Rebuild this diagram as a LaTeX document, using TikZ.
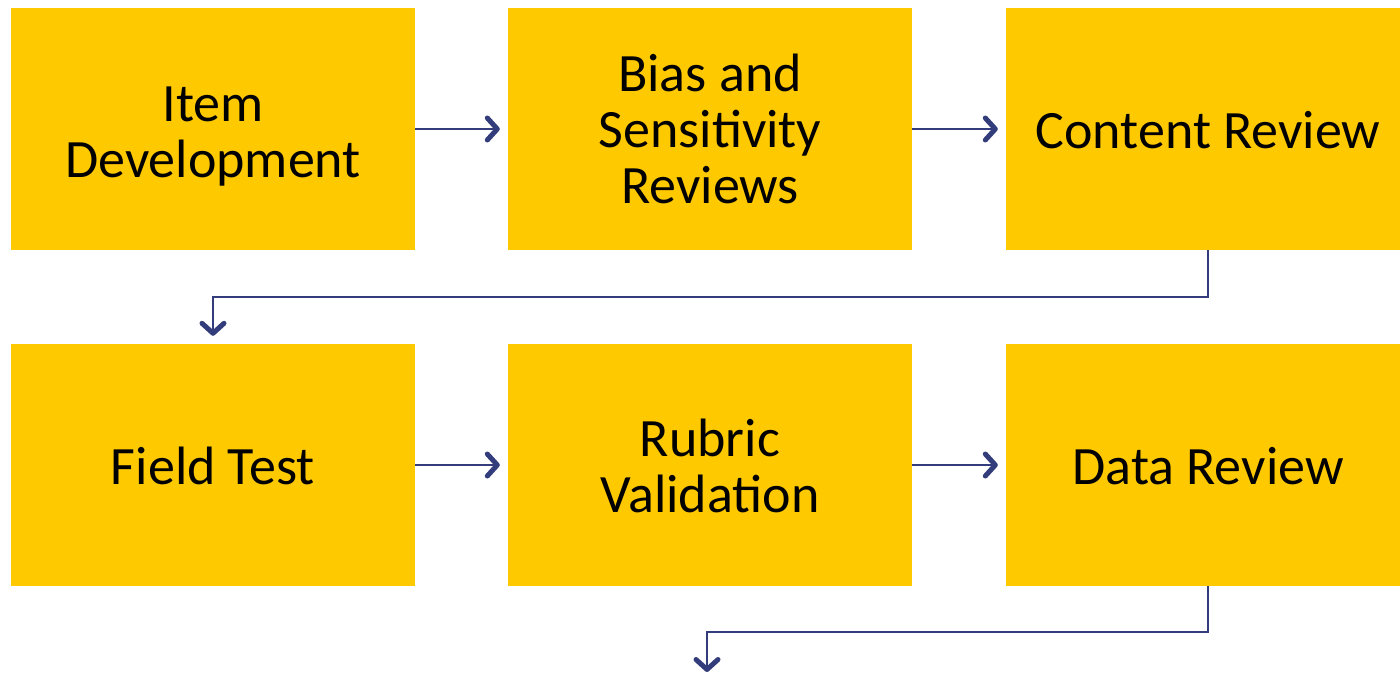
\documentclass[tikz,border=0pt]{standalone}
\usepackage{fontspec}
\setmainfont{Carlito}
\usetikzlibrary{arrows.meta}
\definecolor{boxyellow}{HTML}{FFC900}
\definecolor{navy}{HTML}{333D7C}
\newcommand{\boxtext}[2]{\raisebox{-#1}[\height][\depth]{\begin{tabular}{@{}c@{}}#2\end{tabular}}}
\tikzset{
  box/.style={fill=boxyellow, draw=none, minimum width=404pt, minimum height=242pt, inner sep=0pt, align=center, text=black, font=\fontsize{54pt}{56pt}\selectfont},
  arr/.style={draw=navy, line width=1.8pt, shorten >=8pt, -{Straight Barb[length=10pt, width=22pt, line width=5pt, round]}}
}
\begin{document}
\begin{tikzpicture}[x=1pt,y=-1pt]
\useasboundingbox (0,0) rectangle (1400,672);
\clip (0,0) rectangle (1400,672);
\node[box] (b1) at (213,129) {\boxtext{9pt}{Item\\Development}};
\node[box] (b2) at (710,129) {\boxtext{7pt}{Bias and\\Sensitivity\\Reviews}};
\node[box] (b3) at (1208,129) {\boxtext{8pt}{Content Review}};
\node[box] (b4) at (213,465) {\boxtext{8pt}{Field Test}};
\node[box] (b5) at (710,465) {\boxtext{8pt}{Rubric\\Validation}};
\node[box] (b6) at (1208,465) {\boxtext{8pt}{Data Review}};
\coordinate (end) at (707,680);
\draw[arr] (b1) -- (b2);
\draw[arr] (b2) -- (b3);
\draw[arr] (b4) -- (b5);
\draw[arr] (b5) -- (b6);
\draw[arr] (b3.south) -- ++(0,47) -| (b4.north);
\draw[arr] (b6.south) -- ++(0,46) -| (end);
\end{tikzpicture}
\end{document}
